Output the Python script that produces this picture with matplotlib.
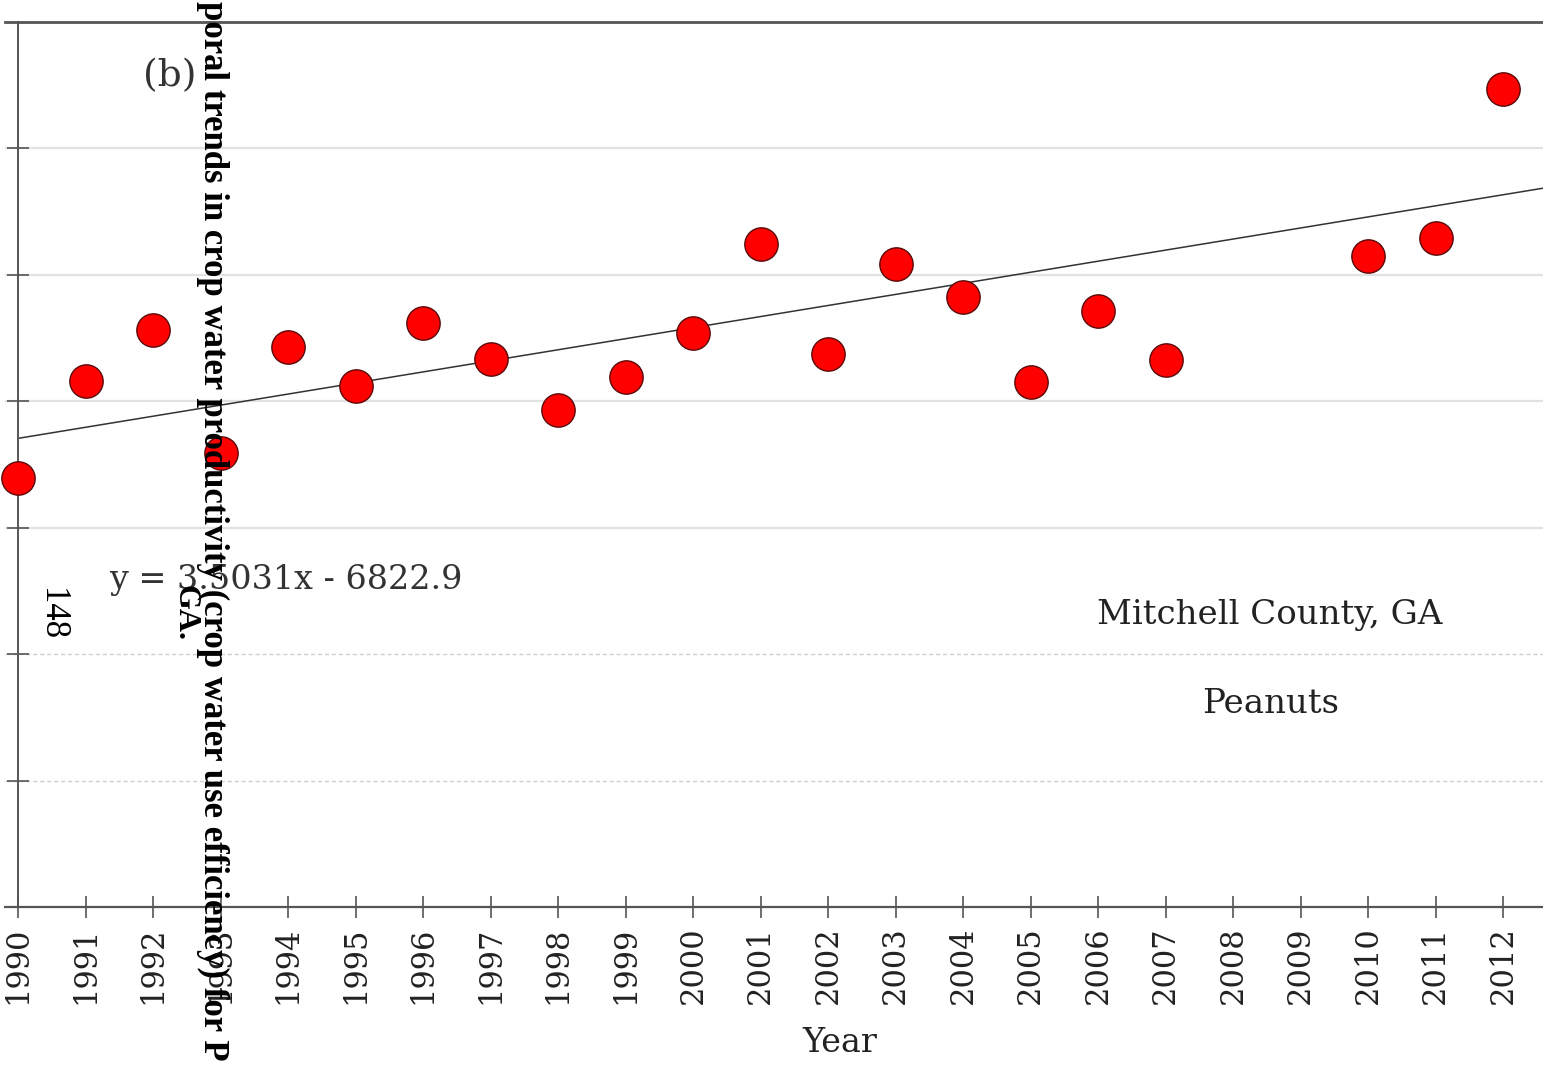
import matplotlib
matplotlib.use("Agg")
import matplotlib.pyplot as plt
import numpy as np

# ---- data ----
years = [1990, 1991, 1992, 1993, 1994, 1995, 1996, 1997, 1998, 1999, 2000,
         2001, 2002, 2003, 2004, 2005, 2006, 2007, 2010, 2011, 2012]
wue = [135.7, 166.4, 182.6, 143.6, 177.2, 164.8, 184.8, 173.4, 157.3, 167.7, 181.6,
       209.8, 175.0, 203.4, 193.0, 166.1, 188.6, 173.1, 206.0, 211.7, 258.8]
tick_years = list(range(1990, 2013))
trend_slope = 3.5031
trend_intercept = -6822.9
y_ticks = [0, 40, 80, 120, 160, 200, 240, 280]

W, H = 1543, 1067
fig = plt.figure(figsize=(W / 100, H / 100), dpi=100)
fig.patch.set_facecolor("white")

ax_left_px, ax_right_px = 5, 1543
ax_top_px, ax_bot_px = 22, 907
ax = fig.add_axes([ax_left_px / W, 1 - ax_bot_px / H,
                   (ax_right_px - ax_left_px) / W, (ax_bot_px - ax_top_px) / H])

px_per_year = (1503 - 18) / 22.0
xmin = 1990 - (18 - ax_left_px) / px_per_year
xmax = 2012 + (ax_right_px - 1503) / px_per_year
ax.set_xlim(xmin, xmax)
ax.set_ylim(0, 280)

# grid lines
for yv in y_ticks[1:-1]:
    if yv >= 120:
        ax.axhline(yv, color="#e2e2e2", lw=1.6, zorder=0)
    else:
        ax.axhline(yv, color="#cfcfcf", lw=1.0, ls=(0, (3, 2)), zorder=0)

# spines
ax.spines["right"].set_visible(False)
ax.spines["left"].set_position(("data", 1990))
ax.spines["left"].set_color("#555555")
ax.spines["left"].set_linewidth(1.4)
ax.spines["bottom"].set_color("#555555")
ax.spines["bottom"].set_linewidth(1.6)
ax.spines["top"].set_color("#555555")
ax.spines["top"].set_linewidth(2.0)

ax.set_yticks(y_ticks[1:-1])
ax.set_yticklabels([])
ax.tick_params(axis="y", direction="inout", length=16, width=1.2, color="#555555")

ax.set_xticks(tick_years)
ax.set_xticklabels([str(y) for y in tick_years], rotation=90,
                   fontfamily="DejaVu Serif", fontsize=22, color="#222222")
ax.tick_params(axis="x", direction="inout", length=16, width=1.2, color="#555555", pad=6)

# trend line
xl = np.array([1990, xmax])
ax.plot(xl, trend_slope * xl + trend_intercept, color="#333333", lw=1.1, zorder=2)

# points
ax.scatter(years, wue, s=24 ** 2, color="#ff0000", edgecolors="#5a0a0a",
           linewidths=1.0, zorder=3, clip_on=False)

# annotations
ax.text(1992.25, 263, "(b)", fontfamily="DejaVu Serif", fontsize=27,
        color="#333333", ha="center", va="center")
ax.text(1993.97, 103.5, "y = 3.5031x - 6822.9", fontfamily="DejaVu Serif",
        fontsize=24, color="#333333", ha="center", va="center")
ax.text(2008.55, 92.4, "Mitchell County, GA", fontfamily="DejaVu Serif",
        fontsize=24.5, color="#222222", ha="center", va="center")
ax.text(2008.55, 64.2, "Peanuts", fontfamily="DejaVu Serif",
        fontsize=24.5, color="#222222", ha="center", va="center")

fig.text(840 / W, 1 - 1043 / H, "Year", fontfamily="DejaVu Serif", fontsize=24,
         color="#222222", ha="center", va="center")

# overlaid page caption text (rotated)
fig.text(213 / W, 1 - 1 / H,
         "poral trends in crop water productivity (crop water use efficiency) for P",
         rotation=-90, fontfamily="Liberation Serif", fontweight="bold",
         fontsize=25, color="black", ha="center", va="top")
fig.text(185 / W, 1 - 585 / H, "GA.", rotation=-90, fontfamily="Liberation Serif",
         fontweight="bold", fontsize=23, color="black", ha="center", va="top")
fig.text(52 / W, 1 - 588 / H, "148", rotation=-90, fontfamily="Liberation Serif",
         fontsize=25, color="black", ha="center", va="top")

fig.savefig("out.png", dpi=100)
